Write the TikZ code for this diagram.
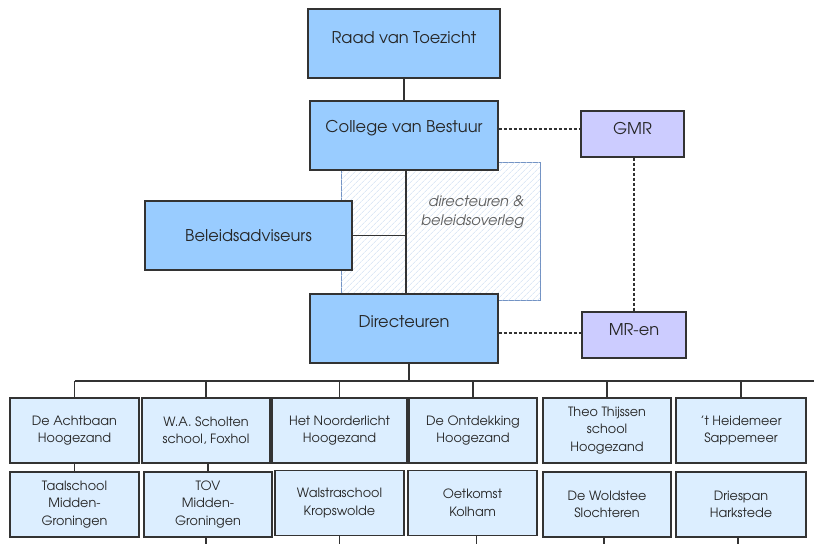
\documentclass[tikz,border=0pt]{standalone}
\usepackage{fontspec}
\setmainfont{texgyreadventor}[Extension=.otf,UprightFont=*-regular,ItalicFont=*-italic,BoldFont=*-bold,BoldItalicFont=*-bolditalic]
\usetikzlibrary{patterns.meta}
\definecolor{mainfill}{HTML}{99CCFF}
\definecolor{gfill}{HTML}{CCCCFF}
\definecolor{sfill}{HTML}{DCEEFF}
\definecolor{edge}{HTML}{333333}
\definecolor{txt}{HTML}{262626}
\definecolor{itxt}{HTML}{5E5E5E}
\definecolor{hatchedge}{HTML}{7393C4}
\definecolor{hatchline}{HTML}{CCDDF2}
\begin{document}
\begin{tikzpicture}[x=1pt,y=-1pt,
  box/.style={draw=edge,line width=1.3pt,inner sep=0pt,text=txt,align=center},
  mfont/.style={font=\fontsize{16.2}{19}\selectfont},
  mainbox/.style={box,fill=mainfill,mfont},
  gbox/.style={box,fill=gfill,mfont,minimum width=103,minimum height=46},
  school/.style={box,fill=sfill,line width=1.2pt,font=\fontsize{12.8}{17.5}\selectfont,minimum height=65},
  lbl/.style={text=txt,inner sep=0pt,mfont},
  conn/.style={draw=edge,line width=1.3pt},
  dconn/.style={draw=edge,line width=1.1pt,dash pattern=on 3pt off 2pt},
  hatchbox/.style={draw=hatchedge,line width=1pt,fill=white,
    postaction={pattern={Lines[angle=45,distance=4pt,line width=0.6pt]},pattern color=hatchline}}
]
\useasboundingbox (0,0) rectangle (814,544);

% hatched overleg area
\node[hatchbox,minimum width=199,minimum height=138,inner sep=0pt] (ov) at (440.5,231) {};
\node[font=\fontsize{14.5}{19}\selectfont\itshape,text=itxt,align=right,anchor=east,inner sep=0pt] (ovt) at (524,212) {directeuren \&\\beleidsoverleg};

% main boxes
\node[mainbox,minimum width=192,minimum height=69,
  label={[lbl,yshift=6pt]center:Raad van Toezicht}] (rvt) at (404,43.5) {};
\node[mainbox,minimum width=188,minimum height=69,
  label={[lbl,yshift=7pt]center:College van Bestuur}] (cvb) at (404,135.5) {};
\node[mainbox,minimum width=207,minimum height=69] (bel) at (248.5,235.5) {Beleidsadviseurs};
\node[mainbox,minimum width=188,minimum height=69,
  label={[lbl,yshift=7pt]center:Directeuren}] (dir) at (404,328.5) {};
\node[gbox,label={[lbl,yshift=5pt]center:GMR}] (gmr) at (632.5,134) {};
\node[gbox,minimum width=104,label={[lbl,yshift=5pt]center:MR-en}] (mren) at (634,335) {};

% schools row 1
\node[school,minimum width=129] (a1) at (74.5,430.5) {De Achtbaan\\Hoogezand};
\node[school,minimum width=128] (a2) at (206,430.5) {W.A. Scholten\\school, Foxhol};
\node[school,minimum width=135] (a3) at (339.5,430.5) {Het Noorderlicht\\Hoogezand};
\node[school,minimum width=128] (a4) at (473,430.5) {De Ontdekking\\Hoogezand};
\node[school,minimum width=128] (a5) at (607,430.5) {Theo Thijssen\\school\\Hoogezand};
\node[school,minimum width=130] (a6) at (741,430.5) {'t Heidemeer\\Sappemeer};
% schools row 2
\node[school,minimum width=129] (b1) at (74.5,504.5) {Taalschool\\Midden-\\Groningen};
\node[school,minimum width=128] (b2) at (208,504.5) {TOV\\Midden-\\Groningen};
\node[school,minimum width=129] (b3) at (339.5,503) {Walstraschool\\Kropswolde};
\node[school,minimum width=129] (b4) at (472.5,503) {Oetkomst\\Kolham};
\node[school,minimum width=128] (b5) at (607,504.5) {De Woldstee\\Slochteren};
\node[school,minimum width=130] (b6) at (741,504.5) {Driespan\\Harkstede};

% coordinates for free ends
\coordinate (busR) at (814,381);
\coordinate (bot) at (0,544);

% solid connectors
\draw[conn] (rvt.south) -- (cvb.north);
\draw[conn] (cvb.south -| 406,0) -- (dir.north -| 406,0);
\draw[conn] (bel.east) -- (bel.east -| 406,0);
\draw[conn] ([xshift=5pt]dir.south) -- ([xshift=5pt]dir.south |- busR);
\draw[conn] (a1.north |- busR) -- (busR);
\foreach \n in {a1,a2,a3,a4,a5,a6}{\draw[conn] (\n.north) -- (\n.north |- busR);}
\draw[conn] (a1.south) -- (b1.north);
\draw[conn] (a2.south -| b2.south) -- (b2.north);
\draw[conn] ([xshift=-2pt]b2.south) -- ([xshift=-2pt]b2.south |- bot);
\draw[conn] (b3.south) -- (b3.south |- bot);
\draw[conn] ([xshift=4pt]b4.south) -- ([xshift=4pt]b4.south |- bot);
\draw[conn] ([xshift=-3pt]b5.south) -- ([xshift=-3pt]b5.south |- bot);
\draw[conn] ([xshift=-3pt]b6.south) -- ([xshift=-3pt]b6.south |- bot);

% dashed connectors
\draw[dconn] (cvb.east |- 0,129) -- (gmr.west |- 0,129);
\draw[dconn] (dir.east |- 0,333) -- (mren.west |- 0,333);
\draw[dconn] (gmr.south -| 634,0) -- (mren.north);
\end{tikzpicture}
\end{document}
